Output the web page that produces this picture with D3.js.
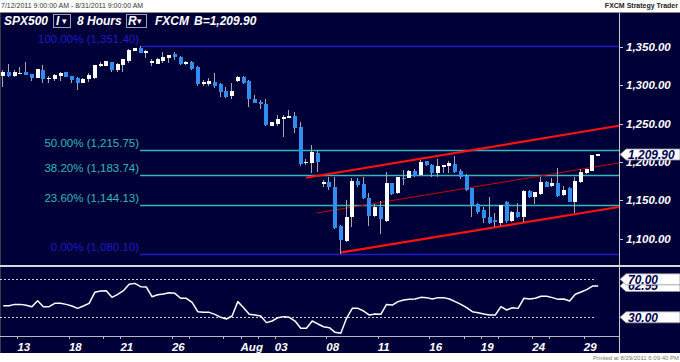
<!DOCTYPE html>
<html>
<head>
<meta charset="utf-8">
<script src="https://cdn.jsdelivr.net/npm/d3@7"></script>
<style>
    body { margin: 0; background: #fff; }
    svg { display: block; font-family: "Liberation Sans", Arial, sans-serif; }
</style>
</head>
<body>
<svg class="chart"></svg>
<script>
// SPX500, 8 hour bars, 7/12/2011 - 8/29/2011 (3 bars per trading day)
const opens = [1312.7, 1317.5, 1312.3, 1316.2, 1317.5, 1314.5, 1309.7, 1320.1, 1309.3, 1308.0,
    1312.7, 1317.1, 1312.3, 1310.1, 1303.5, 1308.0, 1310.1, 1325.3, 1325.3, 1330.5,
    1320.1, 1326.2, 1332.2, 1345.3, 1348.4, 1342.3, 1328.8, 1328.3, 1331.8, 1336.1,
    1340.6, 1337.4, 1327.9, 1330.1, 1323.6, 1301.8, 1301.8, 1304.8, 1302.2, 1292.7,
    1286.6, 1306.1, 1311.4, 1305.7, 1282.3, 1278.8, 1276.1, 1247.4, 1249.7, 1256.2,
    1257.1, 1260.5, 1245.8, 1198.4, 1199.2, 1211.4, 1171.0, 1173.6, 1167.9, 1116.6,
    1097.4, 1128.8, 1175.7, 1171.0, 1153.5, 1129.7, 1141.8, 1123.1, 1172.3, 1159.3,
    1179.6, 1179.6, 1188.8, 1183.1, 1201.0, 1196.2, 1186.1, 1194.0, 1194.9, 1197.5,
    1188.4, 1181.8, 1165.8, 1144.9, 1137.5, 1128.0, 1124.4, 1120.9, 1147.9, 1123.1,
    1135.3, 1128.0, 1162.7, 1154.8, 1158.4, 1174.0, 1168.8, 1172.3, 1156.7, 1165.8,
    1148.3, 1174.4, 1185.4, 1188.8, 1208.8];
const highs = [1320.1, 1327.5, 1320.1, 1324.4, 1330.9, 1314.8, 1321.8, 1326.2, 1312.3, 1314.9,
    1317.5, 1317.3, 1312.5, 1311.4, 1310.1, 1315.8, 1327.0, 1330.1, 1332.2, 1330.8,
    1328.8, 1334.8, 1347.1, 1349.2, 1351.4, 1346.2, 1334.1, 1335.3, 1343.2, 1340.0,
    1344.0, 1338.7, 1331.8, 1331.8, 1325.7, 1307.1, 1309.7, 1316.2, 1302.5, 1297.5,
    1303.5, 1312.7, 1312.7, 1307.4, 1287.5, 1280.6, 1282.3, 1252.7, 1261.4, 1261.4,
    1267.5, 1265.7, 1251.9, 1203.6, 1222.3, 1215.8, 1176.6, 1180.1, 1180.9, 1117.9,
    1150.5, 1178.8, 1178.8, 1180.9, 1159.3, 1144.9, 1149.6, 1186.7, 1172.6, 1180.9,
    1189.7, 1189.7, 1190.6, 1202.7, 1201.3, 1197.5, 1204.0, 1196.2, 1201.8, 1208.3,
    1190.6, 1184.4, 1166.0, 1147.0, 1141.8, 1154.8, 1133.2, 1144.4, 1149.2, 1136.6,
    1147.0, 1163.6, 1163.6, 1161.4, 1180.1, 1175.7, 1179.2, 1191.9, 1168.8, 1167.9,
    1180.9, 1190.6, 1190.9, 1209.5, 1210.3];
const lows = [1298.3, 1311.4, 1310.6, 1315.8, 1313.0, 1305.4, 1309.3, 1303.5, 1302.7, 1305.4,
    1305.4, 1311.2, 1303.5, 1294.0, 1302.7, 1304.8, 1308.7, 1323.6, 1325.0, 1317.9,
    1317.1, 1317.5, 1328.8, 1345.0, 1342.5, 1335.4, 1325.3, 1327.5, 1329.2, 1328.8,
    1333.5, 1326.6, 1326.6, 1320.1, 1299.6, 1299.6, 1298.8, 1297.0, 1284.9, 1283.2,
    1281.9, 1304.1, 1301.4, 1272.2, 1277.2, 1268.8, 1247.4, 1246.7, 1247.1, 1233.1,
    1256.9, 1238.3, 1195.3, 1196.2, 1186.1, 1187.4, 1167.9, 1163.6, 1112.3, 1080.1,
    1096.1, 1115.7, 1167.9, 1151.8, 1116.6, 1128.8, 1105.8, 1122.2, 1157.1, 1158.4,
    1170.1, 1178.8, 1180.1, 1182.2, 1194.9, 1180.1, 1180.9, 1185.4, 1185.4, 1185.4,
    1177.5, 1162.7, 1128.8, 1132.3, 1120.1, 1119.2, 1114.9, 1116.6, 1120.1, 1122.2,
    1127.1, 1122.2, 1152.8, 1145.3, 1157.5, 1167.1, 1167.9, 1154.1, 1155.8, 1147.5,
    1134.0, 1172.3, 1184.4, 1188.0, 1208.5];
const closes = [1317.1, 1312.3, 1317.9, 1316.8, 1313.2, 1310.1, 1321.0, 1308.0, 1310.1, 1314.0,
    1315.8, 1311.4, 1307.1, 1302.7, 1308.7, 1313.6, 1326.2, 1328.3, 1331.4, 1320.1,
    1327.9, 1334.1, 1346.2, 1348.4, 1342.7, 1344.9, 1332.2, 1334.4, 1336.7, 1339.7,
    1336.7, 1327.9, 1330.1, 1321.4, 1301.8, 1304.4, 1306.1, 1299.2, 1291.4, 1285.3,
    1293.1, 1311.4, 1303.5, 1281.9, 1277.4, 1275.4, 1248.4, 1251.9, 1256.2, 1259.2,
    1260.5, 1244.8, 1197.5, 1200.5, 1213.5, 1200.5, 1173.6, 1167.1, 1113.6, 1098.4,
    1128.0, 1175.7, 1169.7, 1152.8, 1129.7, 1141.8, 1125.4, 1172.3, 1158.0, 1180.1,
    1177.5, 1188.4, 1182.2, 1200.1, 1195.8, 1185.4, 1194.9, 1195.8, 1198.4, 1187.4,
    1180.1, 1163.6, 1144.0, 1135.3, 1126.7, 1120.9, 1121.8, 1143.6, 1123.1, 1135.3,
    1128.0, 1162.7, 1154.1, 1160.6, 1173.6, 1167.9, 1173.1, 1155.8, 1163.6, 1148.3,
    1174.9, 1187.4, 1190.6, 1209.2, 1209.9];
const rsiValues = [42.2, 42.2, 43.6, 43.6, 42.6, 41.2, 47.5, 41.2, 41.2, 44.7,
    44.7, 43.6, 41.9, 39.4, 41.9, 44.7, 56.3, 57.7, 58.0, 51.0,
    54.2, 58.0, 64.7, 65.7, 62.2, 61.9, 51.7, 53.8, 54.5, 55.9,
    55.2, 50.0, 50.0, 45.7, 35.9, 35.2, 35.2, 33.1, 30.0, 28.2,
    31.4, 46.5, 40.1, 33.1, 32.4, 31.4, 24.4, 26.1, 29.6, 30.7,
    30.0, 26.1, 18.4, 18.4, 26.1, 23.0, 20.1, 19.1, 14.2, 13.1,
    28.9, 39.4, 39.4, 36.6, 32.4, 33.5, 33.1, 43.6, 42.9, 46.5,
    48.2, 48.9, 49.3, 51.0, 50.7, 49.3, 50.7, 50.7, 49.3, 46.5,
    43.6, 40.1, 35.9, 34.9, 33.5, 32.4, 32.4, 41.2, 37.7, 40.1,
    39.4, 50.0, 49.3, 50.0, 52.1, 52.1, 50.7, 48.9, 49.3, 47.2,
    54.2, 56.6, 59.1, 62.9, 62.95];

// date axis: labels sit on the first bar of the day
const dayLabels = ["13", "18", "21", "26", "Aug", "03", "08", "11", "16", "19", "24", "29"];
const dayLabelBars = [3, 12, 21, 30, 42, 48, 57, 66, 75, 84, 93, 102];
const minorTickBars = [18, 33, 39, 45, 81, 87, 96];

// fibonacci retracement from the 7/22 high (bar 24) down to the 8/09 low
const fibLabels = ["100.00%", "50.00%", "38.20%", "23.60%", "0.00%"];
const fibValues = [1351.40, 1215.75, 1183.74, 1144.13, 1080.10];
const fibStartBar = 24;

// rising channel: start point and a second point, extended to the axis
const channelStartBars = [52.9, 54.8, 58.9];
const channelStartPrices = [1179.6, 1133.6, 1081.8];
const channelEndBars = [107.6, 107.6, 107.6];
const channelEndPrices = [1247.4, 1198.8, 1141.4];

const priceTicks = [1100, 1150, 1200, 1250, 1300, 1350];
const rsiLevels = [70, 30];
const lastPrice = 1209.90;
const lastRsi = 62.95;

(function () {
    const width = 680, height = 362;
    const panelTop = 13, panelBottom = 353;
    const plotRight = 619;
    const priceBottom = 265;
    const rsiAxisY = 336;
    const navy = "#000038";
    const upColour = "#ffffff", downColour = "#2f8ef0", wickColour = "#a8a8b4";
    const fibBlue = "#1c1cc8", fibTeal = "#34b8b8";

    let svg = d3.select("svg.chart")
        .attr("width", width)
        .attr("height", height);

    // white strips top and bottom
    svg.append("rect").attr("width", width).attr("height", height).attr("fill", "#fff");
    svg.append("rect")
        .attr("x", 0).attr("y", panelTop)
        .attr("width", width).attr("height", panelBottom - panelTop)
        .attr("fill", navy);
    svg.append("line")
        .attr("x1", 0).attr("x2", width)
        .attr("y1", panelTop - 0.5).attr("y2", panelTop - 0.5)
        .attr("stroke", "#8a8a8a");
    svg.append("line")
        .attr("x1", 0.5).attr("x2", 0.5)
        .attr("y1", panelTop).attr("y2", panelBottom)
        .attr("stroke", "#3a3a4a");

    svg.append("text")
        .attr("x", 1).attr("y", 8)
        .attr("font-size", "7px").attr("fill", "#333")
        .text("7/12/2011 9:00:00 AM - 8/31/2011 9:00:00 AM");
    svg.append("text")
        .attr("x", 678).attr("y", 8)
        .attr("font-size", "7px").attr("font-weight", "bold")
        .attr("text-anchor", "end").attr("fill", "#222")
        .text("FXCM Strategy Trader");
    svg.append("text")
        .attr("x", 679).attr("y", 360)
        .attr("font-size", "6px").attr("text-anchor", "end").attr("fill", "#777")
        .text("Printed at 8/29/2011 6:09:40 PM");

    // Scales
    let x = d3.scaleLinear().domain([0, 104]).range([3.3, 598.2]);
    let y = d3.scaleLinear().domain([1080.1, 1351.4]).range([254, 46]);
    let yRsi = d3.scaleLinear().domain([30, 70]).range([317.3, 279.3]);

    let bars = d3.range(opens.length).map(function (i) {
        return { i: i, open: opens[i], high: highs[i], low: lows[i], close: closes[i], rsi: rsiValues[i] };
    });

    let plot = svg.append("g");
    plot.append("clipPath").attr("id", "price-clip")
        .append("rect")
        .attr("x", 0).attr("y", panelTop)
        .attr("width", plotRight).attr("height", priceBottom - panelTop);

    // Fibonacci levels
    let fib = plot.append("g").attr("class", "fib");
    fib.selectAll("line")
        .data(fibValues)
        .enter().append("line")
        .attr("x1", x(fibStartBar) - 0.5)
        .attr("x2", plotRight)
        .attr("y1", function (d) { return Math.round(y(d)) + 0.5; })
        .attr("y2", function (d) { return Math.round(y(d)) + 0.5; })
        .attr("stroke", function (d, i) { return (i == 0 || i == fibValues.length - 1) ? fibBlue : fibTeal; })
        .attr("stroke-width", 1.3);
    fib.selectAll("text")
        .data(fibValues)
        .enter().append("text")
        .attr("x", x(fibStartBar) - 1.5)
        .attr("y", function (d) { return y(d) - 3; })
        .attr("text-anchor", "end")
        .attr("font-size", "11.5px")
        .attr("fill", function (d, i) { return (i == 0 || i == fibValues.length - 1) ? fibBlue : fibTeal; })
        .text(function (d, i) { return fibLabels[i] + " (" + d3.format(",.2f")(d) + ")"; });

    // Channel lines
    let channel = plot.append("g").attr("clip-path", "url(#price-clip)");
    channel.selectAll("line")
        .data(channelStartBars)
        .enter().append("line")
        .attr("x1", function (d) { return x(d); })
        .attr("y1", function (d, i) { return y(channelStartPrices[i]); })
        .attr("x2", function (d, i) { return x(channelEndBars[i]); })
        .attr("y2", function (d, i) { return y(channelEndPrices[i]); })
        .attr("stroke", function (d, i) { return i == 1 ? "#d00000" : "#ff1010"; })
        .attr("stroke-width", function (d, i) { return i == 1 ? 1 : 2.2; });

    // Candles
    let candle = plot.append("g").attr("class", "candles")
        .selectAll("g")
        .data(bars)
        .enter().append("g")
        .attr("shape-rendering", "crispEdges");

    candle.append("rect")
        .attr("x", function (d) { return Math.round(x(d.i)) - 1; })
        .attr("width", 1)
        .attr("y", function (d) { return y(d.high); })
        .attr("height", function (d) { return Math.max(1, y(d.low) - y(d.high)); })
        .attr("fill", wickColour);

    candle.append("rect")
        .attr("x", function (d) { return Math.round(x(d.i)) - 2; })
        .attr("width", 4)
        .attr("y", function (d) { return y(Math.max(d.open, d.close)); })
        .attr("height", function (d) { return Math.max(1.5, Math.abs(y(d.open) - y(d.close))); })
        .attr("fill", function (d) { return d.close >= d.open ? upColour : downColour; });

    // Price axis
    svg.append("line")
        .attr("x1", plotRight + 0.5).attr("x2", plotRight + 0.5)
        .attr("y1", panelTop).attr("y2", panelBottom)
        .attr("stroke", "#c8c8d0");

    let priceAxis = svg.append("g").attr("class", "price-axis");
    priceAxis.selectAll("line")
        .data(priceTicks)
        .enter().append("line")
        .attr("x1", plotRight).attr("x2", plotRight + 4)
        .attr("y1", function (d) { return Math.round(y(d)) + 0.5; })
        .attr("y2", function (d) { return Math.round(y(d)) + 0.5; })
        .attr("stroke", "#c8c8d0");
    priceAxis.selectAll("text")
        .data(priceTicks)
        .enter().append("text")
        .attr("x", 626)
        .attr("y", function (d) { return y(d) + 4; })
        .attr("font-size", "11.5px")
        .attr("font-weight", "bold")
        .attr("font-style", "italic")
        .attr("fill", "#fff")
        .text(function (d) { return d3.format(",.2f")(d); });

    function markerBox(yPos, label) {
        let g = svg.append("g");
        g.append("path")
            .attr("d", "M" + (plotRight + 1) + "," + yPos
                + "L" + (plotRight + 7) + "," + (yPos - 5.5)
                + "L" + width + "," + (yPos - 5.5)
                + "L" + width + "," + (yPos + 5.5)
                + "L" + (plotRight + 7) + "," + (yPos + 5.5) + "Z")
            .attr("fill", "#fff")
            .attr("stroke", "#9090a0")
            .attr("stroke-width", 0.8);
        g.append("text")
            .attr("x", 628)
            .attr("y", yPos + 4.5)
            .attr("font-size", "12px")
            .attr("font-weight", "bold")
            .attr("font-style", "italic")
            .attr("fill", "#000050")
            .text(label);
    }

    markerBox(y(lastPrice), d3.format(",.2f")(lastPrice));

    // RSI panel
    svg.append("line")
        .attr("x1", 0).attr("x2", width)
        .attr("y1", 266).attr("y2", 266)
        .attr("stroke", "#d8d8d8").attr("stroke-width", 2);

    svg.selectAll(".rsi-level")
        .data(rsiLevels)
        .enter().append("line")
        .attr("class", "rsi-level")
        .attr("x1", 0).attr("x2", x(104) - 2)
        .attr("y1", function (d) { return Math.round(yRsi(d)) + 0.5; })
        .attr("y2", function (d) { return Math.round(yRsi(d)) + 0.5; })
        .attr("stroke", "#d0d0d8")
        .attr("stroke-dasharray", "2,2");

    let rsiLine = d3.line()
        .x(function (d) { return x(d.i); })
        .y(function (d) { return yRsi(d.rsi); });

    svg.append("path")
        .datum(bars)
        .attr("fill", "none")
        .attr("stroke", "#fff")
        .attr("stroke-width", 1.5)
        .attr("stroke-linejoin", "round")
        .attr("d", rsiLine);

    markerBox(yRsi(lastRsi), d3.format(".2f")(lastRsi));
    rsiLevels.forEach(function (d) { markerBox(yRsi(d), d3.format(".2f")(d)); });

    // Date axis
    svg.append("line")
        .attr("x1", 0).attr("x2", plotRight)
        .attr("y1", rsiAxisY + 0.5).attr("y2", rsiAxisY + 0.5)
        .attr("stroke", "#b8b8c4");

    svg.selectAll(".date-tick")
        .data(dayLabelBars.concat(minorTickBars))
        .enter().append("line")
        .attr("class", "date-tick")
        .attr("x1", function (d) { return Math.round(x(d) - 3) + 0.5; })
        .attr("x2", function (d) { return Math.round(x(d) - 3) + 0.5; })
        .attr("y1", rsiAxisY).attr("y2", rsiAxisY + 3)
        .attr("stroke", "#b8b8c4");

    svg.selectAll(".date-label")
        .data(dayLabels)
        .enter().append("text")
        .attr("class", "date-label")
        .attr("x", function (d, i) { return x(dayLabelBars[i]) - 3; })
        .attr("y", 351)
        .attr("font-size", "11.5px")
        .attr("font-weight", "bold")
        .attr("font-style", "italic")
        .attr("fill", "#fff")
        .text(function (d) { return d; });

    // Header
    let header = svg.append("g")
        .attr("font-size", "12px")
        .attr("font-weight", "bold")
        .attr("font-style", "italic")
        .attr("fill", "#fff");
    header.append("text").attr("x", 4).attr("y", 25).text("SPX500");
    header.append("rect")
        .attr("x", 53.5).attr("y", 14.5).attr("width", 17).attr("height", 13)
        .attr("fill", "none").attr("stroke", "#a0a0b0");
    header.append("text").attr("x", 56).attr("y", 25).text("I");
    header.append("text").attr("x", 62).attr("y", 24).attr("font-style", "normal")
        .attr("font-size", "9px").attr("font-family", "DejaVu Sans").text("▾");
    header.append("text").attr("x", 77).attr("y", 25).text("8 Hours");
    header.append("rect")
        .attr("x", 126.5).attr("y", 14.5).attr("width", 20).attr("height", 13)
        .attr("fill", "none").attr("stroke", "#a0a0b0");
    header.append("text").attr("x", 128).attr("y", 25).text("R");
    header.append("text").attr("x", 137).attr("y", 24).attr("font-style", "normal")
        .attr("font-size", "9px").attr("font-family", "DejaVu Sans").text("▾");
    header.append("text").attr("x", 155).attr("y", 25).text("FXCM");
    header.append("text").attr("x", 194).attr("y", 25).text("B=" + d3.format(",.2f")(lastPrice));
}());
</script>
</body>
</html>
